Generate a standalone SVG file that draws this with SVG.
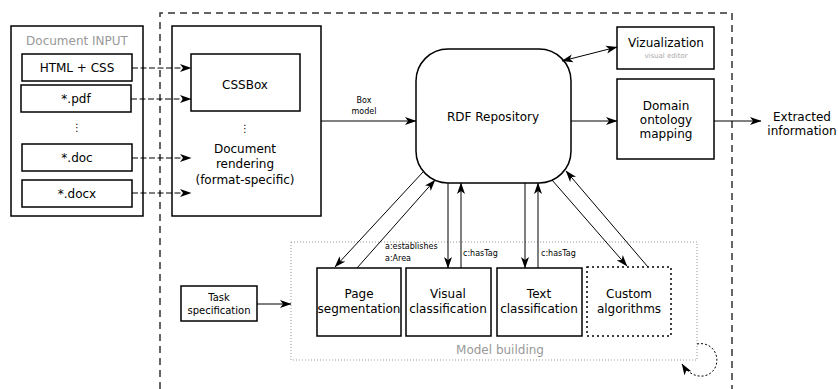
<svg xmlns="http://www.w3.org/2000/svg" width="838" height="389" viewBox="0 0 838 389">
<defs>
<marker id="ah" markerUnits="userSpaceOnUse" markerWidth="12" markerHeight="9" refX="11" refY="4.5" orient="auto-start-reverse" viewBox="0 0 12 9">
<path d="M0,0.5 L11.5,4.5 L0,8.5 L3,4.5 z" fill="#000"/>
</marker>
<style>
text{font-family:"DejaVu Sans","Liberation Sans",sans-serif;fill:#000;text-anchor:middle}
.box{fill:#fff;stroke:#000;stroke-width:1.5}
.conn{fill:none;stroke:#000;stroke-width:1}
.arr{marker-end:url(#ah)}
.m{font-size:12px}
.s{font-size:8px}
.g{fill:#999}
.dash{stroke-dasharray:6,2.5}
</style>
</defs>
<rect width="838" height="389" fill="#fff"/>
<path d="M160,389 V13 H732 V389" fill="none" stroke="#333" stroke-width="1.5" stroke-dasharray="7,5"/>
<g id="input">
<rect class="box" x="11" y="26" width="132" height="190"/>
<text class="m g" x="77" y="45">Document INPUT</text>
<g id="html"><rect class="box" x="22" y="54" width="110" height="27"/><text class="m" x="77" y="72">HTML + CSS</text></g>
<g id="pdf"><rect class="box" x="21" y="85" width="110" height="27"/><text class="m" x="76" y="103">*.pdf</text></g>
<text x="77" y="131" font-size="10">⋮</text>
<g id="doc"><rect class="box" x="22" y="144" width="110" height="27"/><text class="m" x="77" y="162">*.doc</text></g>
<g id="docx"><rect class="box" x="22" y="180" width="110" height="27"/><text class="m" x="77" y="198">*.docx</text></g>
</g>
<g id="rendering">
<rect class="box" x="172" y="26" width="149" height="190"/>
<g id="cssbox"><rect class="box" x="191" y="54" width="109" height="57"/><text class="m" x="245" y="89">CSSBox</text></g>
<text x="245" y="132" font-size="10">⋮</text>
<text class="m" x="245" y="153">Document</text>
<text class="m" x="245" y="168">rendering</text>
<text class="m" x="245" y="184">(format-specific)</text>
</g>
<g id="rdf"><rect class="box" x="416" y="49" width="155" height="134" rx="32" ry="32"/><text class="m" x="493" y="121">RDF Repository</text></g>
<g id="viz"><rect class="box" x="617" y="27" width="97" height="42"/><text class="m" x="666" y="47">Vizualization</text><text x="666" y="58" font-size="7" fill="#aaa" style="fill:#aaa">visual editor</text></g>
<g id="domain"><rect class="box" x="617" y="79" width="97" height="80"/><text class="m" x="666" y="110">Domain</text><text class="m" x="666" y="124">ontology</text><text class="m" x="666" y="138">mapping</text></g>
<g id="extracted"><text class="m" x="802" y="121">Extracted</text><text class="m" x="802" y="135">information</text></g>
<g id="model">
<rect x="291" y="242" width="406" height="118" fill="none" stroke="#999" stroke-width="1" stroke-dasharray="1,2"/>
<text class="m g" x="500" y="354">Model building</text>
</g>
<g id="pageseg"><rect class="box" x="317" y="268" width="84" height="68"/><text class="m" x="359" y="298">Page</text><text class="m" x="359" y="313">segmentation</text></g>
<g id="visual"><rect class="box" x="406" y="268" width="85" height="68"/><text class="m" x="448" y="298">Visual</text><text class="m" x="448" y="313">classification</text></g>
<g id="textcls"><rect class="box" x="497" y="268" width="85" height="68"/><text class="m" x="539" y="298">Text</text><text class="m" x="539" y="313">classification</text></g>
<g id="custom"><rect x="587" y="267" width="84" height="69" fill="#fff" stroke="#000" stroke-width="1.5" stroke-dasharray="2,3"/><text class="m" x="629" y="298">Custom</text><text class="m" x="629" y="313">algorithms</text></g>
<g id="task"><rect class="box" x="181" y="286" width="76" height="35"/><text x="219" y="301" font-size="10">Task</text><text x="219" y="314" font-size="10">specification</text></g>
<g id="connectors">
<line class="conn arr dash" x1="132" y1="68" x2="191" y2="68"/>
<line class="conn arr dash" x1="131" y1="99" x2="191" y2="99"/>
<line class="conn arr dash" x1="132" y1="158" x2="191" y2="158"/>
<line class="conn arr dash" x1="132" y1="193" x2="191" y2="193"/>
<line class="conn arr" x1="321" y1="121" x2="416" y2="121"/>
<text class="s" x="364" y="103">Box</text>
<text class="s" x="364" y="114">model</text>
<line class="conn arr" x1="571" y1="121" x2="617" y2="121"/>
<line class="conn arr" x1="714" y1="121" x2="761" y2="121"/>
<line class="conn arr" x1="562" y1="61" x2="617" y2="47" style="marker-start:url(#ah)"/>
<line class="conn arr" x1="423" y1="172" x2="335" y2="267"/>
<line class="conn arr" x1="357" y1="268" x2="435" y2="180"/>
<text class="s" x="385" y="249" style="text-anchor:start">a:establishes</text>
<text class="s" x="385" y="261" style="text-anchor:start">a:Area</text>
<line class="conn arr" x1="448" y1="183" x2="448" y2="268"/>
<line class="conn arr" x1="461" y1="268" x2="461" y2="183"/>
<text class="s" x="463" y="256" style="text-anchor:start">c:hasTag</text>
<line class="conn arr" x1="525" y1="183" x2="525" y2="268"/>
<line class="conn arr" x1="538" y1="268" x2="538" y2="183"/>
<text class="s" x="541" y="256" style="text-anchor:start">c:hasTag</text>
<line class="conn arr" x1="552" y1="180" x2="627" y2="266"/>
<line class="conn arr" x1="648" y1="267" x2="566" y2="171"/>
<line class="conn arr" x1="257" y1="304" x2="291" y2="304"/>
<path class="conn arr" d="M697,344 C712,341 721,356 715,368 C709,379 692,380 682,364" stroke-dasharray="2,2"/>
</g>
</svg>
